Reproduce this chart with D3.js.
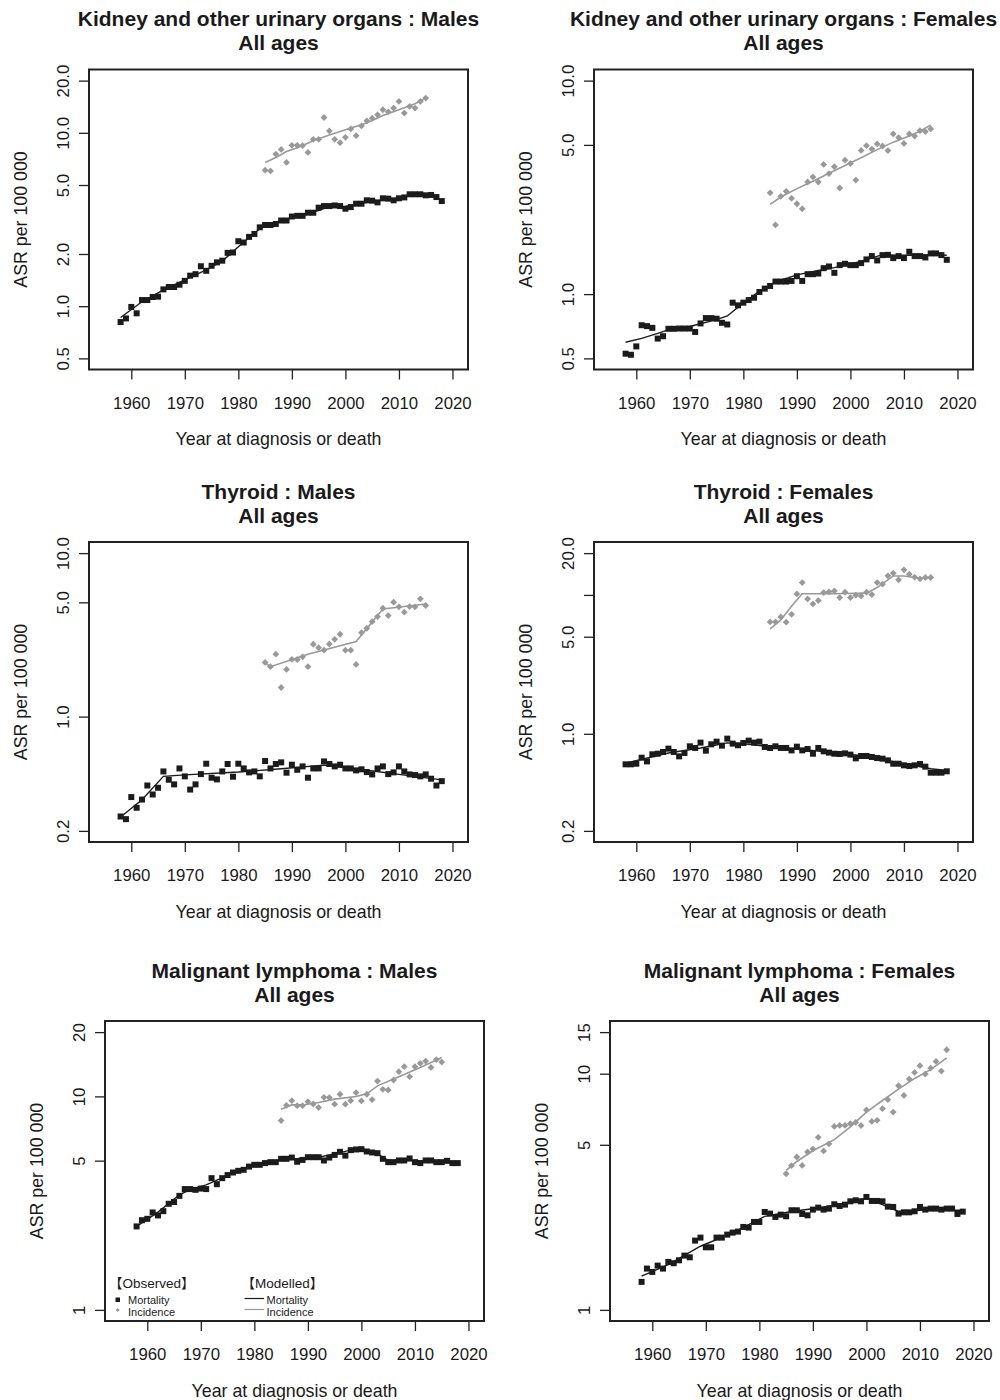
<!DOCTYPE html>
<html>
<head>
<meta charset="utf-8">
<script src="https://cdn.jsdelivr.net/npm/d3@7"></script>
<style>
  body { margin: 0; background: #fff; }
  svg { display: block; font-family: "Liberation Sans", Arial, Helvetica, sans-serif; }
</style>
</head>
<body>
<svg id="chart" width="1000" height="1400"></svg>
<script>
// ---- Years ----
const mortalityYears = [1958, 1959, 1960, 1961, 1962, 1963, 1964, 1965, 1966, 1967,
  1968, 1969, 1970, 1971, 1972, 1973, 1974, 1975, 1976, 1977,
  1978, 1979, 1980, 1981, 1982, 1983, 1984, 1985, 1986, 1987,
  1988, 1989, 1990, 1991, 1992, 1993, 1994, 1995, 1996, 1997,
  1998, 1999, 2000, 2001, 2002, 2003, 2004, 2005, 2006, 2007,
  2008, 2009, 2010, 2011, 2012, 2013, 2014, 2015, 2016, 2017, 2018];
const incidenceYears = [1985, 1986, 1987, 1988, 1989, 1990, 1991, 1992, 1993, 1994,
  1995, 1996, 1997, 1998, 1999, 2000, 2001, 2002, 2003, 2004,
  2005, 2006, 2007, 2008, 2009, 2010, 2011, 2012, 2013, 2014, 2015];
const xTickYears = [1960, 1970, 1980, 1990, 2000, 2010, 2020];

// ---- Observed ASR per 100 000 ----
const kidneyMalesMortality = [0.81, 0.85, 0.99, 0.91, 1.085, 1.085, 1.13, 1.135, 1.25, 1.29,
  1.29, 1.33, 1.40, 1.50, 1.53, 1.70, 1.60, 1.71, 1.79, 1.83,
  2.03, 2.04, 2.37, 2.33, 2.51, 2.61, 2.85, 2.94, 2.94, 2.98,
  3.12, 3.12, 3.29, 3.32, 3.32, 3.46, 3.46, 3.70, 3.78, 3.78,
  3.81, 3.78, 3.65, 3.73, 3.90, 3.90, 4.08, 4.06, 3.97, 4.19,
  4.17, 4.08, 4.19, 4.24, 4.42, 4.42, 4.42, 4.36, 4.38, 4.26, 4.04];
const kidneyMalesIncidence = [6.09, 6.03, 7.54, 8.02, 6.75, 8.47, 8.47, 8.43, 7.71, 9.17,
  9.17, 12.25, 10.25, 9.17, 8.77, 9.42, 10.53, 9.63, 10.96, 11.72,
  12.15, 12.70, 13.58, 13.22, 13.88, 15.18, 12.99, 14.20, 13.88, 15.18, 15.87];

const kidneyFemalesMortality = [0.526, 0.520, 0.569, 0.715, 0.708, 0.695, 0.619, 0.635, 0.688, 0.688,
  0.69, 0.69, 0.69, 0.665, 0.729, 0.772, 0.772, 0.767, 0.734, 0.721,
  0.912, 0.886, 0.912, 0.938, 0.962, 1.023, 1.061, 1.092, 1.145, 1.145,
  1.145, 1.153, 1.213, 1.153, 1.24, 1.24, 1.249, 1.323, 1.347, 1.258,
  1.367, 1.387, 1.367, 1.367, 1.397, 1.454, 1.507, 1.438, 1.523, 1.527,
  1.475, 1.507, 1.475, 1.579, 1.507, 1.507, 1.485, 1.551, 1.551, 1.523, 1.448];
const kidneyFemalesIncidence = [2.98, 2.11, 2.87, 3.03, 2.81, 2.65, 2.51, 3.35, 3.54, 3.35,
  4.05, 3.67, 3.95, 3.14, 4.24, 4.09, 3.42, 4.71, 4.96, 4.78,
  5.05, 4.94, 4.70, 5.63, 5.41, 5.08, 5.63, 5.50, 5.83, 5.77, 5.94];

const thyroidMalesMortality = [0.245, 0.236, 0.322, 0.277, 0.311, 0.379, 0.334, 0.367, 0.462, 0.411,
  0.385, 0.482, 0.431, 0.358, 0.385, 0.445, 0.515, 0.423, 0.413, 0.462,
  0.513, 0.429, 0.515, 0.482, 0.456, 0.462, 0.431, 0.535, 0.482, 0.513,
  0.525, 0.454, 0.508, 0.473, 0.496, 0.423, 0.482, 0.482, 0.532, 0.513,
  0.496, 0.508, 0.482, 0.482, 0.469, 0.476, 0.458, 0.443, 0.482, 0.496,
  0.445, 0.456, 0.496, 0.462, 0.443, 0.439, 0.431, 0.443, 0.417, 0.379, 0.403];
const thyroidMalesIncidence = [2.145, 2.02, 2.41, 1.507, 1.943, 2.24, 2.235, 2.32, 2.02, 2.77,
  2.64, 2.55, 2.78, 2.97, 3.19, 2.55, 2.55, 2.085, 3.26, 3.47,
  3.81, 4.09, 4.60, 4.15, 5.01, 4.69, 4.35, 4.71, 4.69, 5.25, 4.78];

const thyroidFemalesMortality = [0.603, 0.603, 0.609, 0.673, 0.633, 0.712, 0.719, 0.740, 0.782, 0.740,
  0.688, 0.728, 0.813, 0.791, 0.864, 0.756, 0.840, 0.878, 0.822, 0.923,
  0.850, 0.827, 0.859, 0.893, 0.864, 0.878, 0.804, 0.791, 0.813, 0.791,
  0.791, 0.760, 0.808, 0.760, 0.777, 0.719, 0.791, 0.748, 0.732, 0.719,
  0.716, 0.723, 0.708, 0.666, 0.692, 0.692, 0.681, 0.669, 0.662, 0.644,
  0.609, 0.609, 0.593, 0.586, 0.593, 0.606, 0.580, 0.525, 0.525, 0.525, 0.537];
const thyroidFemalesIncidence = [6.39, 6.39, 6.94, 6.36, 7.25, 10.17, 12.28, 9.36, 8.62, 9.11,
  10.40, 10.52, 10.69, 9.57, 10.46, 9.57, 9.95, 9.84, 10.46, 10.06,
  12.28, 11.95, 13.72, 14.35, 12.84, 15.16, 14.11, 13.42, 13.06, 13.35, 13.35];

const lymphomaMalesMortality = [2.46, 2.63, 2.67, 2.86, 2.77, 2.90, 3.14, 3.20, 3.42, 3.68,
  3.68, 3.65, 3.70, 3.68, 4.14, 3.88, 4.14, 4.28, 4.40, 4.48,
  4.53, 4.69, 4.78, 4.78, 4.87, 4.92, 4.92, 5.10, 5.10, 5.17,
  4.94, 5.04, 5.19, 5.19, 5.19, 5.01, 5.17, 5.32, 5.50, 5.28,
  5.60, 5.64, 5.66, 5.52, 5.46, 5.42, 5.10, 4.92, 4.92, 5.01,
  5.01, 5.12, 4.92, 4.87, 5.01, 5.01, 4.92, 4.92, 4.99, 4.87, 4.87];
const lymphomaMalesIncidence = [7.70, 9.08, 9.55, 9.05, 9.05, 9.45, 9.21, 8.86, 9.90, 9.87,
  9.19, 10.23, 9.19, 9.55, 10.41, 9.52, 10.23, 9.65, 11.80, 10.79,
  10.71, 11.93, 13.05, 13.77, 12.37, 13.77, 14.28, 14.64, 13.67, 14.85, 14.48];

const lymphomaFemalesMortality = [1.314, 1.496, 1.448, 1.540, 1.496, 1.596, 1.576, 1.622, 1.698, 1.670,
  1.965, 2.023, 1.841, 1.841, 2.023, 2.023, 2.083, 2.124, 2.145, 2.245,
  2.230, 2.357, 2.357, 2.598, 2.556, 2.475, 2.531, 2.491, 2.641, 2.641,
  2.548, 2.515, 2.658, 2.710, 2.658, 2.684, 2.80, 2.754, 2.790, 2.882,
  2.911, 2.882, 3.007, 2.892, 2.892, 2.882, 2.736, 2.728, 2.556, 2.589,
  2.589, 2.615, 2.728, 2.658, 2.684, 2.684, 2.658, 2.684, 2.684, 2.548, 2.606];
const lymphomaFemalesIncidence = [3.77, 4.08, 4.44, 4.09, 4.66, 4.80, 5.38, 4.71, 5.05, 5.98,
  6.04, 6.04, 6.14, 6.22, 6.03, 7.02, 6.28, 6.35, 7.11, 7.76,
  6.88, 8.89, 8.09, 9.49, 10.13, 10.81, 9.96, 10.56, 11.27, 10.26, 12.63];

// ---- Modelled trends: [year, ASR] vertices ----
const kidneyMalesMortalityModel = [[1958, 0.86], [1962, 1.06], [1966, 1.24], [1970, 1.42], [1974, 1.62],
  [1977, 1.82], [1980, 2.2], [1984, 2.8], [1986, 2.95], [1990, 3.25], [1994, 3.48], [1997, 3.75],
  [2000, 3.76], [2003, 3.92], [2006, 4.05], [2009, 4.15], [2012, 4.33], [2014, 4.4], [2016, 4.36]];
const kidneyMalesIncidenceModel = [[1985, 6.75], [1987, 7.2], [1989, 7.8], [1991, 8.2], [1994, 9.0],
  [1997, 9.7], [2000, 10.4], [2004, 11.4], [2007, 12.6], [2010, 13.6], [2013, 14.7], [2015, 15.8]];

const kidneyFemalesMortalityModel = [[1958, 0.595], [1961, 0.62], [1964, 0.655], [1966, 0.68], [1970, 0.705],
  [1975, 0.76], [1977, 0.79], [1980, 0.91], [1983, 1.03], [1986, 1.14], [1990, 1.23], [1994, 1.29],
  [1997, 1.33], [2000, 1.38], [2003, 1.45], [2006, 1.53], [2009, 1.52], [2012, 1.52], [2015, 1.53], [2018, 1.52]];
const kidneyFemalesIncidenceModel = [[1985, 2.63], [1987, 2.85], [1990, 3.12], [1993, 3.38], [1996, 3.68],
  [1999, 4.0], [2002, 4.35], [2005, 4.75], [2008, 5.15], [2011, 5.5], [2013, 5.8], [2015, 6.2]];

const thyroidMalesMortalityModel = [[1958, 0.243], [1962, 0.31], [1966, 0.431], [1970, 0.44], [1980, 0.458],
  [1988, 0.48], [1996, 0.505], [2004, 0.47], [2010, 0.443], [2018, 0.41]];
const thyroidMalesIncidenceModel = [[1985, 2.13], [1986, 2.02], [1993, 2.41], [2002, 2.88], [2007, 4.55], [2015, 4.88]];

const thyroidFemalesMortalityModel = [[1958, 0.615], [1966, 0.727], [1972, 0.79], [1977, 0.86], [1981, 0.84],
  [1986, 0.80], [1996, 0.74], [2003, 0.69], [2009, 0.62], [2015, 0.56], [2018, 0.545]];
const thyroidFemalesIncidenceModel = [[1985, 5.69], [1987, 6.6], [1989, 8.3], [1991, 10.2], [1997, 10.2],
  [2003, 10.3], [2005, 11.3], [2008, 13.7], [2010, 13.7], [2013, 13.2], [2015, 13.3]];

const lymphomaMalesMortalityModel = [[1958, 2.46], [1962, 2.87], [1966, 3.46], [1968, 3.66], [1971, 3.85],
  [1976, 4.37], [1980, 4.73], [1985, 5.05], [1992, 5.19], [1995, 5.38], [1999.5, 5.72], [2001, 5.62],
  [2003, 5.38], [2005, 5.01], [2010, 5.01], [2014, 4.94], [2018, 4.87]];
const lymphomaMalesIncidenceModel = [[1985, 8.7], [1987, 9.12], [1989, 9.12], [1992, 9.36], [1995, 9.71],
  [1999, 9.99], [2001, 10.28], [2003, 11.2], [2007, 12.37], [2011, 13.67], [2013, 14.4], [2015, 15.2]];

const lymphomaFemalesMortalityModel = [[1958, 1.39], [1963, 1.555], [1969, 1.86], [1975, 2.12], [1981, 2.49],
  [1986, 2.61], [1991, 2.70], [1997, 2.86], [2000, 2.98], [2003, 2.79], [2006, 2.61], [2010, 2.64], [2018, 2.64]];
const lymphomaFemalesIncidenceModel = [[1985, 3.90], [1987, 4.25], [1990, 4.72], [1994, 5.26], [1997, 5.95],
  [2000, 6.88], [2003, 7.7], [2006, 8.6], [2009, 9.55], [2012, 10.4], [2015, 11.66]];

// ---- Panel titles and y-axis settings ----
const panelTitles = [
  "Kidney and other urinary organs : Males",
  "Kidney and other urinary organs : Females",
  "Thyroid : Males",
  "Thyroid : Females",
  "Malignant lymphoma : Males",
  "Malignant lymphoma : Females"
];
const yLimits = [[0.5, 20], [0.5, 10], [0.2, 10], [0.2, 20], [1, 20], [1, 15]];
const yTickValues = [
  [0.5, 1, 2, 5, 10, 20],
  [0.5, 1, 5, 10],
  [0.2, 1, 5, 10],
  [0.2, 1, 5, 10, 20],
  [1, 5, 10, 20],
  [1, 5, 10, 15]
];
const yTickLabels = [
  ["0.5", "1.0", "2.0", "5.0", "10.0", "20.0"],
  ["0.5", "1.0", "5.0", "10.0"],
  ["0.2", "1.0", "5.0", "10.0"],
  ["0.2", "1.0", "5.0", "", "20.0"],
  ["1", "5", "10", "20"],
  ["1", "5", "10", "15"]
];

const observedMortality = [kidneyMalesMortality, kidneyFemalesMortality, thyroidMalesMortality,
  thyroidFemalesMortality, lymphomaMalesMortality, lymphomaFemalesMortality];
const observedIncidence = [kidneyMalesIncidence, kidneyFemalesIncidence, thyroidMalesIncidence,
  thyroidFemalesIncidence, lymphomaMalesIncidence, lymphomaFemalesIncidence];
const modelMortality = [kidneyMalesMortalityModel, kidneyFemalesMortalityModel, thyroidMalesMortalityModel,
  thyroidFemalesMortalityModel, lymphomaMalesMortalityModel, lymphomaFemalesMortalityModel];
const modelIncidence = [kidneyMalesIncidenceModel, kidneyFemalesIncidenceModel, thyroidMalesIncidenceModel,
  thyroidFemalesIncidenceModel, lymphomaMalesIncidenceModel, lymphomaFemalesIncidenceModel];

// ---- Layout ----
const panelOrigins = [[89, 69.5], [594, 69.5], [89, 542], [594, 542], [105, 1021], [610, 1021]];
const plotW = 379, plotH = 300;
const xDomain = [1952.1, 2022.9];
const mortColor = "#1b1b1b";
const incColor = "#999999";
const axisColor = "#222222";

const svg = d3.select("#chart");

function diamondPath(r) {
  return `M0,${-r}L${r},0L0,${r}L${-r},0Z`;
}

panelTitles.forEach((title, i) => {
  const [left, top] = panelOrigins[i];
  const g = svg.append("g").attr("transform", `translate(${left},${top})`);

  const x = d3.scaleLinear().domain(xDomain).range([0, plotW]);
  const lo = Math.log10(yLimits[i][0]), hi = Math.log10(yLimits[i][1]);
  const pad = (hi - lo) * 0.04;
  const y = d3.scaleLog().domain([Math.pow(10, lo - pad), Math.pow(10, hi + pad)]).range([plotH, 0]);

  // Title (two lines)
  g.append("text")
    .attr("x", plotW / 2).attr("y", -43.5)
    .attr("text-anchor", "middle")
    .attr("font-size", 21).attr("font-weight", "bold").attr("fill", "#1a1a1a")
    .text(title);
  g.append("text")
    .attr("x", plotW / 2).attr("y", -19.5)
    .attr("text-anchor", "middle")
    .attr("font-size", 21).attr("font-weight", "bold").attr("fill", "#1a1a1a")
    .text("All ages");

  // X axis
  const xAxis = g.append("g")
    .attr("transform", `translate(0,${plotH})`)
    .call(d3.axisBottom(x).tickValues(xTickYears).tickSize(10).tickPadding(0).tickFormat(d3.format("d")));
  xAxis.select(".domain").remove();
  xAxis.selectAll(".tick line").attr("stroke", axisColor).attr("stroke-width", 1.3);
  xAxis.selectAll(".tick text")
    .attr("y", 39).attr("dy", null)
    .attr("font-size", 16.8).attr("fill", "#1a1a1a")
    .attr("font-family", "Liberation Sans, Arial, sans-serif");

  // Y axis (labels rotated as in base graphics)
  const labels = yTickLabels[i];
  const ticks = yTickValues[i];
  const yAxis = g.append("g")
    .call(d3.axisLeft(y).tickValues(ticks).tickSize(10)
      .tickFormat((d) => labels[ticks.indexOf(d)]));
  yAxis.select(".domain").remove();
  yAxis.selectAll(".tick line").attr("stroke", axisColor).attr("stroke-width", 1.3);
  yAxis.selectAll(".tick text")
    .attr("x", null).attr("dy", null)
    .attr("transform", "translate(-20.5,0) rotate(-90)")
    .attr("text-anchor", "middle")
    .attr("font-size", 16.8).attr("fill", "#1a1a1a")
    .attr("font-family", "Liberation Sans, Arial, sans-serif");

  // Axis titles
  g.append("text")
    .attr("x", plotW / 2).attr("y", plotH + 75.5)
    .attr("text-anchor", "middle")
    .attr("font-size", 17.8).attr("fill", "#1a1a1a")
    .text("Year at diagnosis or death");
  g.append("text")
    .attr("transform", `translate(${-62},${plotH / 2}) rotate(-90)`)
    .attr("text-anchor", "middle")
    .attr("font-size", 17.8).attr("fill", "#1a1a1a")
    .text("ASR per 100 000");

  // Modelled lines
  const line = d3.line().x((d) => x(d[0])).y((d) => y(d[1]));
  g.append("path").datum(modelIncidence[i])
    .attr("d", line).attr("fill", "none")
    .attr("stroke", incColor).attr("stroke-width", 1.6);
  g.append("path").datum(modelMortality[i])
    .attr("d", line).attr("fill", "none")
    .attr("stroke", mortColor).attr("stroke-width", 1.4);

  // Observed points
  g.append("g").selectAll("rect")
    .data(observedMortality[i])
    .join("rect")
    .attr("x", (d, k) => x(mortalityYears[k]) - 3)
    .attr("y", (d) => y(d) - 3)
    .attr("width", 6).attr("height", 6)
    .attr("fill", mortColor);
  g.append("g").selectAll("path")
    .data(observedIncidence[i])
    .join("path")
    .attr("transform", (d, k) => `translate(${x(incidenceYears[k])},${y(d)})`)
    .attr("d", diamondPath(3.4))
    .attr("fill", incColor);

  // Plot frame
  g.append("rect")
    .attr("x", 0).attr("y", 0).attr("width", plotW).attr("height", plotH)
    .attr("fill", "none").attr("stroke", axisColor).attr("stroke-width", 2);

  // Legend in the lymphoma (males) panel
  if (i === 4) {
    const lg = g.append("g").attr("fill", "#1a1a1a");
    const header = (xPos, word) => {
      const t = lg.append("text").attr("x", xPos).attr("y", 266.5).attr("font-size", 13.5);
      t.append("tspan").attr("font-family", "'Noto Sans CJK JP', sans-serif").text("【");
      t.append("tspan").text(word);
      t.append("tspan").attr("font-family", "'Noto Sans CJK JP', sans-serif").text("】");
    };
    header(4, "Observed");
    lg.append("rect").attr("x", 10.5).attr("y", 276.5).attr("width", 4.5).attr("height", 4.5).attr("fill", mortColor);
    lg.append("path").attr("transform", "translate(12.7,289)").attr("d", diamondPath(2)).attr("fill", incColor);
    lg.append("text").attr("x", 23).attr("y", 282.5).attr("font-size", 11).text("Mortality");
    lg.append("text").attr("x", 23).attr("y", 294.5).attr("font-size", 11).text("Incidence");

    header(136.5, "Modelled");
    lg.append("line").attr("x1", 139.5).attr("x2", 159).attr("y1", 277.5).attr("y2", 277.5)
      .attr("stroke", mortColor).attr("stroke-width", 1.2);
    lg.append("line").attr("x1", 139.5).attr("x2", 159).attr("y1", 288.5).attr("y2", 288.5)
      .attr("stroke", incColor).attr("stroke-width", 1.2);
    lg.append("text").attr("x", 161.5).attr("y", 282.5).attr("font-size", 11).text("Mortality");
    lg.append("text").attr("x", 161.5).attr("y", 294.5).attr("font-size", 11).text("Incidence");
  }
});
</script>
</body>
</html>
